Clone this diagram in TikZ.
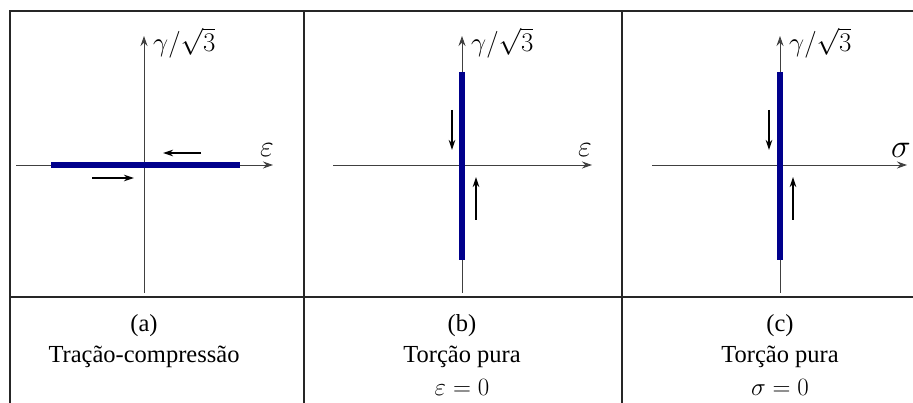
\documentclass[tikz,border=0pt]{standalone}
\usepackage{graphicx}
\usepackage{fontspec}
\setmainfont{Liberation Serif}
\usetikzlibrary{arrows.meta}
\definecolor{barblue}{RGB}{0,0,140}
\newcommand{\mlbl}[2]{\scalebox{#1}{$#2$}}
\begin{document}
\begin{tikzpicture}[x=1pt,y=-1pt,
  frame/.style={line width=1.5pt, draw=black!85},
  axis/.style={line width=0.9pt, draw=black!75, -{Stealth[length=10pt,width=7pt]}},
  bar/.style={line width=6pt, draw=barblue},
  move/.style={line width=1.2pt, -{Stealth[length=10pt,width=6.5pt]}},
  lbl/.style={font=\fontsize{24.88}{30}\selectfont, inner sep=0pt},
  captext/.style={font=\fontsize{24.5}{30}\selectfont, inner sep=0pt}]
\useasboundingbox (0,0) rectangle (913,403);
% frame
\draw[frame] (913,11) -- (10,11) -- (10,403);
\draw[frame] (304,11) -- (304,403);
\draw[frame] (622,11) -- (622,403);
\draw[frame] (10,297) -- (913,297);

% ---- panel (a)
\coordinate (aB) at (144,293); \coordinate (aT) at (144,36);
\coordinate (aL) at (16,165);  \coordinate (aR) at (273,165);
\coordinate (aS) at (51,165);  \coordinate (aE) at (240,165);
\draw[axis] (aL) -- (aR);
\draw[axis] (aB) -- (aT);
\draw[bar] (aS) -- (aE);
\coordinate (a1s) at (201,153); \coordinate (a1e) at (163,153);
\coordinate (a2s) at (92,178);  \coordinate (a2e) at (134,178);
\draw[move] (a1s) -- (a1e);
\draw[move] (a2s) -- (a2e);
\node[lbl, anchor=west] (aY) at (153,43) {\mlbl{1.08}{\gamma/\sqrt{3}}};
\node[lbl] (aX) at (267,150) {\mlbl{1.2}{\varepsilon}};

% ---- panel (b)
\coordinate (bB) at (462,293); \coordinate (bT) at (462,36);
\coordinate (bL) at (333,165); \coordinate (bR) at (592,165);
\coordinate (bS) at (462,72);  \coordinate (bE) at (462,260);
\draw[axis] (bL) -- (bR);
\draw[axis] (bB) -- (bT);
\draw[bar] (bS) -- (bE);
\coordinate (b1s) at (452,110); \coordinate (b1e) at (452,150);
\coordinate (b2s) at (476,220); \coordinate (b2e) at (476,177);
\draw[move] (b1s) -- (b1e);
\draw[move] (b2s) -- (b2e);
\node[lbl, anchor=west] (bY) at (471,43) {\mlbl{1.08}{\gamma/\sqrt{3}}};
\node[lbl] (bX) at (585,150) {\mlbl{1.2}{\varepsilon}};

% ---- panel (c)
\coordinate (cB) at (780,293); \coordinate (cT) at (780,36);
\coordinate (cL) at (652,165); \coordinate (cR) at (907,165);
\coordinate (cS) at (780,72);  \coordinate (cE) at (780,260);
\draw[axis] (cL) -- (cR);
\draw[axis] (cB) -- (cT);
\draw[bar] (cS) -- (cE);
\coordinate (c1s) at (769,110); \coordinate (c1e) at (769,150);
\coordinate (c2s) at (793,220); \coordinate (c2e) at (793,177);
\draw[move] (c1s) -- (c1e);
\draw[move] (c2s) -- (c2e);
\node[lbl, anchor=west] (cY) at (789,43) {\mlbl{1.08}{\gamma/\sqrt{3}}};
\node[lbl] (cX) at (901,150) {\mlbl{1.33}{\sigma}};

% ---- captions
\node[captext] (ta1) at (144,326) {(a)};
\node[captext] (ta2) at (144,357) {Tração-compressão};
\node[captext] (tb1) at (462,326) {(b)};
\node[captext] (tb2) at (462,357) {Torção pura};
\node[captext] (tb3) at (462,387) {$\varepsilon = 0$};
\node[captext] (tc1) at (780,326) {(c)};
\node[captext] (tc2) at (780,357) {Torção pura};
\node[captext] (tc3) at (780,387) {$\sigma = 0$};
\end{tikzpicture}
\end{document}
